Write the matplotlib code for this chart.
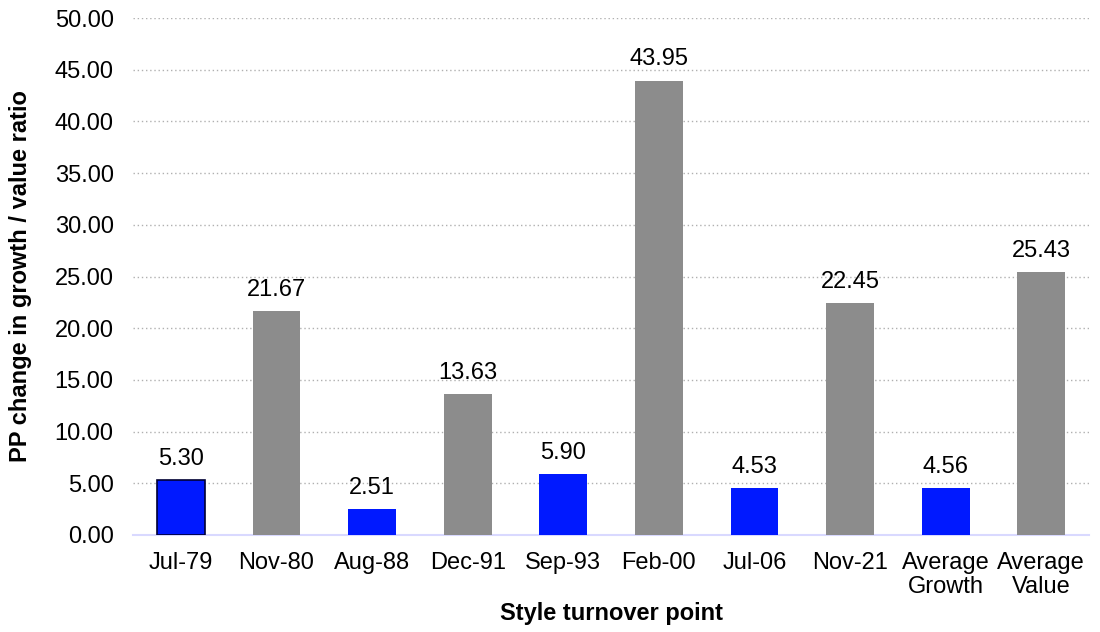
import numpy as np
import matplotlib.pyplot as plt

plt.rcParams['font.family'] = ['Liberation Sans', 'DejaVu Sans']

categories = ['Jul-79', 'Nov-80', 'Aug-88', 'Dec-91', 'Sep-93', 'Feb-00',
              'Jul-06', 'Nov-21', 'Average\nGrowth', 'Average\nValue']
values = [5.30, 21.67, 2.51, 13.63, 5.90, 43.95, 4.53, 22.45, 4.56, 25.43]
is_growth = [True, False, True, False, True, False, True, False, True, False]

colors = ['#0019ff' if g else '#8c8c8c' for g in is_growth]
fs = 17

fig = plt.figure(figsize=(11, 6.32), dpi=100)
ax = fig.add_axes([0.121, 0.1535, 0.869, 0.818])

x = np.arange(len(categories))
bars = ax.bar(x, values, width=0.5, color=colors, zorder=3)
bars[0].set_edgecolor('#000033')
bars[0].set_linewidth(1.2)

for xi, v in zip(x, values):
    ax.text(xi, v + 1.0, f'{v:.2f}', ha='center', va='bottom', fontsize=fs)

ax.set_ylim(0, 50)
ax.set_xlim(-0.5, len(categories) - 0.5)
ax.set_yticks(np.arange(0, 50.1, 5))
ax.set_yticklabels([f'{t:.2f}' for t in np.arange(0, 50.1, 5)])
ax.set_xticks(x)
ax.set_xticklabels(categories, linespacing=1.15)
ax.tick_params(axis='both', length=0, labelsize=fs)
ax.tick_params(axis='x', pad=12)
ax.tick_params(axis='y', pad=14)
ax.yaxis.grid(True, linestyle=(0, (1, 2)), color='#b0b0b0', linewidth=1, zorder=0)

for side in ['top', 'right', 'left']:
    ax.spines[side].set_visible(False)
ax.spines['bottom'].set_color('#d9d9ff')
ax.spines['bottom'].set_linewidth(1.5)

ax.set_xlabel('Style turnover point', fontsize=fs, fontweight='bold', labelpad=3)
ax.set_ylabel('PP change in growth / value ratio', fontsize=fs, fontweight='bold', labelpad=16)

fig.savefig('out.png', dpi=100)
